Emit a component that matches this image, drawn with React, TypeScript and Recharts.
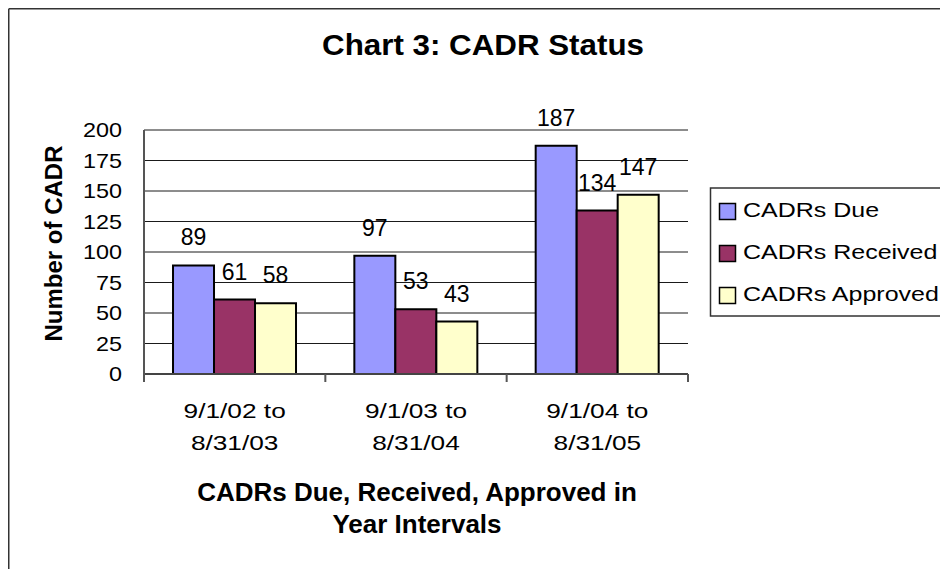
import React from 'react';
import { BarChart, Bar, XAxis, YAxis, CartesianGrid, LabelList } from 'recharts';

const categories = ['9/1/02 to\n8/31/03', '9/1/03 to\n8/31/04', '9/1/04 to\n8/31/05'];
const cadrsDue = [89, 97, 187];
const cadrsReceived = [61, 53, 134];
const cadrsApproved = [58, 43, 147];
const yTicks = [0, 25, 50, 75, 100, 125, 150, 175, 200];
const seriesKeys = ['due', 'received', 'approved'];
const seriesNames = ['CADRs Due', 'CADRs Received', 'CADRs Approved'];
const seriesColors = ['#9999FF', '#993366', '#FFFFCC'];

const data = categories.map((c, i) => ({
  cat: c,
  due: cadrsDue[i],
  received: cadrsReceived[i],
  approved: cadrsApproved[i],
}));

const FONT = '"Liberation Sans", Arial, Helvetica, sans-serif';

function YTick(props: any) {
  const { x, y, payload } = props;
  return (
    <g transform={`translate(${x},${y}) scale(1.17,1)`}>
      <text x={0} y={0} dy="0.355em" textAnchor="end" fontSize={20} fontFamily={FONT} fill="#000">
        {payload.value}
      </text>
    </g>
  );
}

function CatTick(props: any) {
  const { x, y, payload, index, visibleTicksCount } = props;
  const lines = String(payload.value).split('\n');
  const off = payload && typeof payload.offset === 'number' ? payload.offset : null;
  return (
    <g>
      {off !== null && (
        <line x1={x - off} x2={x - off} y1={y} y2={y + 8} stroke="#555" strokeWidth={2} />
      )}
      {off !== null && index === visibleTicksCount - 1 && (
        <line x1={x + off} x2={x + off} y1={y} y2={y + 8} stroke="#555" strokeWidth={2} />
      )}
      {lines.map((l, i) => (
        <g key={i} transform={`translate(${x},${y + 44 + i * 32}) scale(1.25,1)`}>
          <text x={0} y={0} textAnchor="middle" fontSize={21} fontFamily={FONT} fill="#000">
            {l}
          </text>
        </g>
      ))}
    </g>
  );
}

export default function App() {
  return (
    <div style={{ position: 'relative', width: 940, height: 561, overflow: 'hidden', background: '#fff' }}>
      <style>{'html{overflow:hidden}'}</style>
      <div style={{ position: 'absolute', left: 0, top: 0 }}>
        <BarChart
          width={940}
          height={561}
          data={data}
          margin={{ top: 122, right: 260, bottom: 95, left: 76 }}
          barCategoryGap="16%"
          barGap={0}
        >
          <CartesianGrid vertical={false} stroke="#1a1a1a" strokeWidth={1} />
          <XAxis
            dataKey="cat"
            height={100}
            tickSize={0}
            tickMargin={0}
            interval={0}
            tickLine={false}
            axisLine={{ stroke: '#444', strokeWidth: 2 }}
            tick={(p: any) => <CatTick {...p} />}
          />
          <XAxis
            xAxisId="t"
            dataKey="cat"
            orientation="top"
            height={0}
            tick={false}
            tickLine={false}
            axisLine={{ stroke: '#b4b4b4', strokeWidth: 2 }}
          />
          <YAxis
            width={60}
            domain={[0, 200]}
            ticks={yTicks}
            interval={0}
            tickSize={0}
            tickMargin={22}
            tickLine={false}
            axisLine={{ stroke: '#555', strokeWidth: 2 }}
            tick={(p: any) => <YTick {...p} />}
          />
          <YAxis
            yAxisId="r"
            orientation="right"
            width={0}
            domain={[0, 200]}
            tick={false}
            tickLine={false}
            axisLine={{ stroke: '#b4b4b4', strokeWidth: 2 }}
          />
          {seriesKeys.map((k, i) => (
            <Bar
              key={k}
              dataKey={k}
              name={seriesNames[i]}
              fill={seriesColors[i]}
              stroke="#000"
              strokeWidth={2}
              isAnimationActive={false}
            >
              <LabelList
                dataKey={k}
                position="top"
                offset={20}
                fill="#000"
                fontSize={23}
                fontFamily={FONT}
              />
            </Bar>
          ))}
        </BarChart>
      </div>
      <svg
        width={940}
        height={561}
        style={{ position: 'absolute', left: 0, top: 0, pointerEvents: 'none' }}
      >
        <line x1={0.75} y1={0.75} x2={0.75} y2={561} stroke="#333" strokeWidth={1.5} />
        <line x1={0.75} y1={0.75} x2={940} y2={0.75} stroke="#333" strokeWidth={1.5} />
        <g transform="translate(475,47) scale(1.08,1)">
          <text x={0} y={0} textAnchor="middle" fontSize={29} fontWeight="bold" fontFamily={FONT} fill="#000">
            Chart 3: CADR Status
          </text>
        </g>
        <g transform="translate(54,235.5) rotate(-90)">
          <text x={0} y={0} textAnchor="middle" fontSize={24} fontWeight="bold" fontFamily={FONT} fill="#000">
            Number of CADR
          </text>
        </g>
        <text x={409} y={493} textAnchor="middle" fontSize={26} fontWeight="bold" fontFamily={FONT} fill="#000">
          CADRs Due, Received, Approved in
        </text>
        <text x={409} y={525} textAnchor="middle" fontSize={26} fontWeight="bold" fontFamily={FONT} fill="#000">
          Year Intervals
        </text>
        <rect x={702.5} y={180} width={260} height={128} fill="#fff" stroke="#333" strokeWidth={1.5} />
        {seriesNames.map((n, i) => (
          <g key={n}>
            <rect
              x={711.5}
              y={195.5 + i * 42}
              width={16}
              height={16}
              fill={seriesColors[i]}
              stroke="#000"
              strokeWidth={1.5}
            />
            <g transform={`translate(735,${209 + i * 42}) scale(1.19,1)`}>
              <text x={0} y={0} fontSize={21} fontFamily={FONT} fill="#000">
                {n}
              </text>
            </g>
          </g>
        ))}
      </svg>
    </div>
  );
}
